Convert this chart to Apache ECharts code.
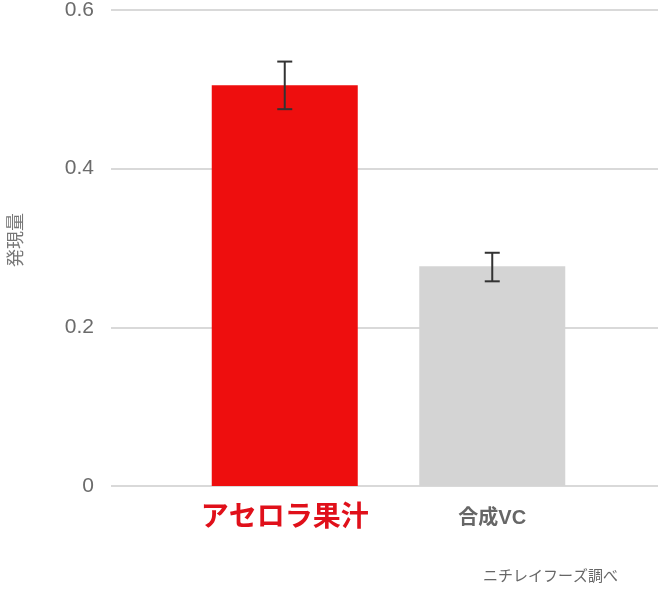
<!DOCTYPE html>
<html><head><meta charset="utf-8">
<script src="https://cdn.jsdelivr.net/npm/echarts@6/dist/echarts.min.js"></script>
<style>html,body{margin:0;padding:0;background:#fff}#c{width:660px;height:594px}</style>
</head><body><div id="c"></div>
<script>
const categories = ['アセロラ果汁', '合成VC'];
const values = [0.505, 0.277];
const errLow = [0.475, 0.258];
const errHigh = [0.535, 0.294];
const barColors = ['#ee0e0e', '#d4d4d4'];
const yTicks = [0, 0.2, 0.4, 0.6];
const yName = '発現量';
const source = 'ニチレイフーズ調べ';

const chart = echarts.init(document.getElementById('c'), null, {renderer: 'canvas'});
const font = 'Arial, "Liberation Sans", "Noto Sans CJK JP", sans-serif';
chart.setOption({
  animation: false,
  textStyle: {fontFamily: font},
  grid: [
    {left: 111, right: 2, top: 10, height: 476, containLabel: false, outerBoundsMode: 'none'},
    {left: 181, width: 415, top: 10, height: 476, containLabel: false, outerBoundsMode: 'none'}
  ],
  xAxis: [
    {gridIndex: 0, type: 'value', show: false, min: 0, max: 1},
    {gridIndex: 1, type: 'category', data: categories,
     axisLine: {show: false}, axisTick: {show: false},
     axisLabel: {
       margin: 18,
       formatter: function (v, i) { return i === 0 ? '{a|' + v + '}' : '{b|' + v + '}'; },
       rich: {
         a: {color: '#e0101a', fontSize: 28, fontWeight: 'bold', fontFamily: font},
         b: {color: '#666666', fontSize: 20, fontWeight: 'bold', fontFamily: font, padding: [4, 0, 0, 0]}
       }
     }}
  ],
  yAxis: [
    {gridIndex: 0, type: 'value', min: yTicks[0], max: yTicks[yTicks.length - 1], interval: 0.2,
     name: yName, nameLocation: 'middle', nameGap: 85,
     nameTextStyle: {color: '#777777', fontSize: 18, padding: [0, 0, 0, 16]},
     axisLine: {show: false}, axisTick: {show: false},
     axisLabel: {color: '#6b6b6b', fontSize: 21, margin: 17, formatter: function (v) { return String(+v.toFixed(1)); }},
     splitLine: {lineStyle: {color: '#d9d9d9', width: 2}}},
    {gridIndex: 1, type: 'value', min: yTicks[0], max: yTicks[yTicks.length - 1], show: false, splitLine: {show: false}}
  ],
  series: [
    {type: 'bar', xAxisIndex: 1, yAxisIndex: 1, barWidth: 146,
     data: values.map((v, i) => ({value: v, itemStyle: {color: barColors[i]}}))},
    {type: 'custom', xAxisIndex: 1, yAxisIndex: 1, z: 5,
     data: categories.map((c, i) => [i, errLow[i], errHigh[i]]),
     renderItem: function (params, api) {
       const lo = api.coord([api.value(0), api.value(1)]);
       const hi = api.coord([api.value(0), api.value(2)]);
       const hw = 7.5;
       const st = {stroke: '#333333', lineWidth: 2};
       return {type: 'group', children: [
         {type: 'line', shape: {x1: hi[0], y1: hi[1], x2: lo[0], y2: lo[1]}, style: st},
         {type: 'line', shape: {x1: hi[0] - hw, y1: hi[1], x2: hi[0] + hw, y2: hi[1]}, style: st},
         {type: 'line', shape: {x1: lo[0] - hw, y1: lo[1], x2: lo[0] + hw, y2: lo[1]}, style: st}
       ]};
     }}
  ],
  graphic: [
    {type: 'text', left: 483, top: 569, style: {text: source, fill: '#666666', fontSize: 15, fontFamily: font}}
  ]
});
</script></body></html>
